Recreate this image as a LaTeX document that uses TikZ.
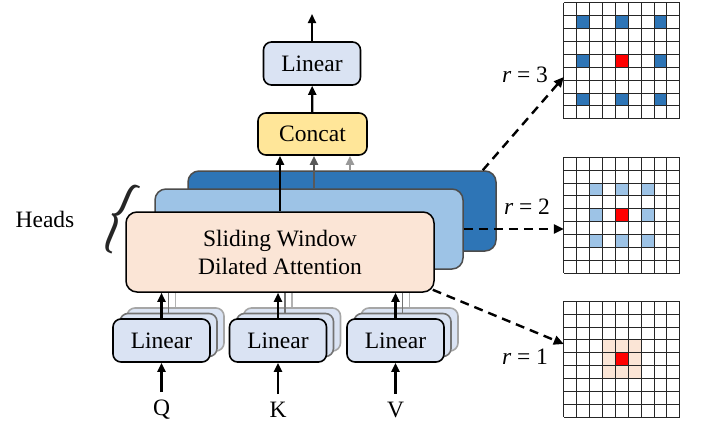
\documentclass[tikz,border=0pt]{standalone}
\usepackage{fontspec}
\setmainfont{Liberation Serif}
\usetikzlibrary{positioning,calc,arrows.meta}

\definecolor{linblue}{HTML}{DAE3F3}
\definecolor{attnpeach}{HTML}{FBE5D6}
\definecolor{headlight}{HTML}{9DC3E6}
\definecolor{headdark}{HTML}{2E75B6}
\definecolor{concatyellow}{HTML}{FFE699}
\definecolor{cellred}{HTML}{FF0000}

\newcommand{\cellsz}{12.89}

\tikzset{
    txt/.style={font=\fontsize{23.5}{28}\selectfont, inner sep=0pt},
    block/.style={txt, draw=black, line width=1.6pt, rounded corners=8pt,
        minimum width=97pt, minimum height=43pt},
    linbox/.style={block, fill=linblue},
    headbox/.style={txt, line width=1.5pt, rounded corners=11pt,
        minimum width=308pt, minimum height=80pt, align=center},
    arr/.style={line width=2.2pt, -{Triangle[length=9pt, width=8pt]}},
    dasharr/.style={line width=2.4pt, dash pattern=on 9pt off 6pt,
        -{Triangle[length=10pt, width=9pt]}},
    gridbox/.style={minimum size=116pt, inner sep=0pt, fill=white},
    gridline/.style={line width=1pt, black!85}
}

\begin{document}
\begin{tikzpicture}[x=1pt, y=-1pt]
    % 0. frame
    \useasboundingbox (0,0) rectangle (702,423);
    % 1. heads
    \node[headbox, draw=black!70, fill=headdark] (head3) at (342,211) {};
    \node[headbox, draw=black!70, fill=headlight] (head2) at (309,229) {};
    \node[headbox, draw=black, fill=attnpeach] (attn) at (280,252)
        {Sliding Window\\Dilated Attention};
    % 2. concat and output
    \node[block, fill=concatyellow, minimum width=109pt, minimum height=42pt]
        (concat) at (312.5,134) {Concat};
    \node[linbox] (linout) at (312,63.5) {Linear};
    \coordinate (out) at (312,14);
    \draw[arr] (concat) -- (linout);
    \draw[arr] (linout) -- (out);
    \draw[arr, black!40] ([xshift=8pt]head3.north) -- ([xshift=8pt]head3.north |- concat.south);
    \draw[arr, black!65] ([xshift=5pt]head2.north) -- ([xshift=5pt]head2.north |- concat.south);
    \draw[arr] (attn.north) -- (attn.north |- concat.south);
    % 3. inputs
    \foreach \nm/\lbl/\px in {q/Q/161.5, k/K/278, v/V/395.5} {
        \node[linbox, draw=black!35] (lin\nm-b) at (\px+14,329.5) {};
        \node[linbox, draw=black!55] (lin\nm-a) at (\px+7,335) {};
        \node[linbox] (lin\nm) at (\px,340.5) {Linear};
        \node[txt] (in\nm) at (\px,410) {\lbl};
        \draw[arr] ([yshift=8pt]in\nm.north) -- (lin\nm);
        \draw[line width=1.8pt, black!30] (lin\nm-b.north) -- (lin\nm-b.north |- attn.south);
        \draw[line width=1.8pt, black!55] (lin\nm-a.north) -- (lin\nm-a.north |- attn.south);
        \draw[arr] (lin\nm) -- (lin\nm |- attn.south);
    }
    % 4. heads brace
    \node[rotate=-23, xscale=0.6, yscale=1.05, text=black!85, inner sep=0pt] (brace) at (119,217)
        {\fontsize{84}{84}\selectfont\{};
    \node[txt] (heads) at (45,219) {Heads};
    % 5. grids
    \node[gridbox] (g3) at (622,61) {};
    \node[gridbox] (g2) at (622,215.5) {};
    \node[gridbox] (g1) at (622,359.5) {};
    \foreach \c in {1,4,7} \foreach \r in {1,4,7}
        \fill[headdark] ($(g3.north west)+(\c*\cellsz,\r*\cellsz)$) rectangle +(\cellsz,\cellsz);
    \foreach \c in {2,4,6} \foreach \r in {2,4,6}
        \fill[headlight] ($(g2.north west)+(\c*\cellsz,\r*\cellsz)$) rectangle +(\cellsz,\cellsz);
    \foreach \c in {3,4,5} \foreach \r in {3,4,5}
        \fill[attnpeach] ($(g1.north west)+(\c*\cellsz,\r*\cellsz)$) rectangle +(\cellsz,\cellsz);
    \foreach \g in {g3,g2,g1} {
        \fill[cellred] ($(\g.north west)+(4*\cellsz,4*\cellsz)$) rectangle +(\cellsz,\cellsz);
        \foreach \i in {0,...,9} {
            \draw[gridline] ($(\g.north west)+(\i*\cellsz,0)$) -- +(0,9*\cellsz);
            \draw[gridline] ($(\g.north west)+(0,\i*\cellsz)$) -- +(9*\cellsz,0);
        }
    }
    % 6. dilation rates
    \node[txt] (r3) at (525,75) {\textit{r} = 3};
    \node[txt] (r2) at (527,207) {\textit{r} = 2};
    \node[txt] (r1) at (525,357) {\textit{r} = 1};
    \draw[dasharr] ([xshift=-14pt]head3.north east) -- ([yshift=-16pt]g3.west);
    \draw[dasharr] (head2.east) -- (head2.east -| g2.west);
    \draw[dasharr] ([shift={(-2pt,3pt)}]attn.south east) -- ([yshift=15.5pt]g1.west);
\end{tikzpicture}
\end{document}
